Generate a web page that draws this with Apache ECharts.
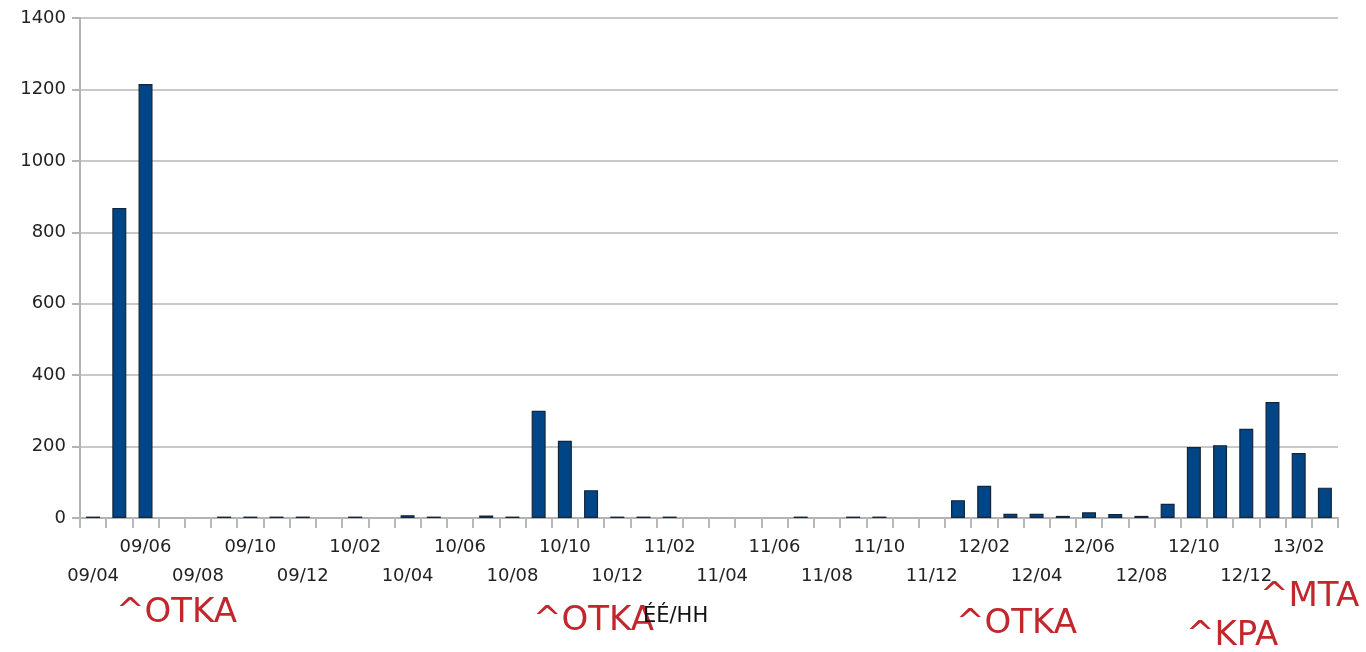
<!DOCTYPE html>
<html>
<head>
<meta charset="utf-8">
<script src="https://cdn.jsdelivr.net/npm/echarts@6/dist/echarts.min.js"></script>
<style>
html,body{margin:0;padding:0;background:#fff;}
#chart{width:1366px;height:652px;}
</style>
</head>
<body>
<div id="chart"></div>
<script>
var categories = [
  '09/04','09/05','09/06','09/07','09/08','09/09','09/10','09/11','09/12',
  '10/01','10/02','10/03','10/04','10/05','10/06','10/07','10/08','10/09','10/10','10/11','10/12',
  '11/01','11/02','11/03','11/04','11/05','11/06','11/07','11/08','11/09','11/10','11/11','11/12',
  '12/01','12/02','12/03','12/04','12/05','12/06','12/07','12/08','12/09','12/10','12/11','12/12',
  '13/01','13/02','13/03'
];
var values = [
  4, 868, 1215, null, null, 4, 4, 4, 4,
  null, 4, null, 8, 4, null, 7, 4, 300, 216, 78, 4,
  4, 4, null, null, null, null, 4, null, 4, 4, null, null,
  50, 90, 12, 12, 6, 16, 11, 6, 40, 199, 204, 250,
  325, 182, 85
];
var yTicks = { min: 0, max: 1400, interval: 200 };
var axisTitle = 'ÉÉ/HH';
var notes = ['^OTKA', '^OTKA', '^OTKA', '^KPA', '^MTA'];

var chart = echarts.init(document.getElementById('chart'), null, {renderer: 'canvas'});
var red = '#c1272d';
var font = 'DejaVu Sans';
function note(text, x, y) {
  return {type: 'text', left: x, top: y, style: {text: text, fill: red, font: '34px "' + font + '"'}};
}
var option = {
  animation: false,
  backgroundColor: '#ffffff',
  grid: {left: 80, right: 28, top: 18, bottom: 134},
  xAxis: {
    type: 'category',
    data: categories,
    boundaryGap: true,
    axisLine: {lineStyle: {color: '#b3b3b3', width: 2}},
    axisTick: {show: true, interval: 0, length: 10, lineStyle: {color: '#b8b8b8', width: 2}},
    axisLabel: {
      interval: 0,
      margin: 15,
      color: '#222',
      fontFamily: font,
      fontSize: 18,
      lineHeight: 29,
      verticalAlign: 'top',
      formatter: function (v, i) {
        if (i % 4 === 0) return '\n' + v;
        if (i % 4 === 2) return v;
        return '';
      }
    },
    splitLine: {show: false}
  },
  yAxis: {
    type: 'value',
    min: yTicks.min,
    max: yTicks.max,
    interval: yTicks.interval,
    axisLine: {show: true, lineStyle: {color: '#b3b3b3', width: 2}},
    axisTick: {show: true, length: 8, lineStyle: {color: '#b3b3b3', width: 2}},
    axisLabel: {color: '#222', fontFamily: font, fontSize: 18, margin: 14,
      formatter: function (v) { return String(v); }},
    splitLine: {lineStyle: {color: '#c8c8c8', width: 2}}
  },
  series: [{
    type: 'bar',
    data: values,
    barWidth: 14,
    itemStyle: {color: '#004586', borderColor: '#16263a', borderWidth: 1.2}
  }],
  graphic: [
    note(notes[0], 116, 596),
    note(notes[1], 533, 604),
    note(notes[2], 956, 607),
    note(notes[3], 1186, 619),
    note(notes[4], 1260, 580),
    {type: 'text', left: 643, top: 606, style: {text: axisTitle, fill: '#111', font: '21px "' + font + '"'}}
  ]
};
chart.setOption(option);
</script>
</body>
</html>
